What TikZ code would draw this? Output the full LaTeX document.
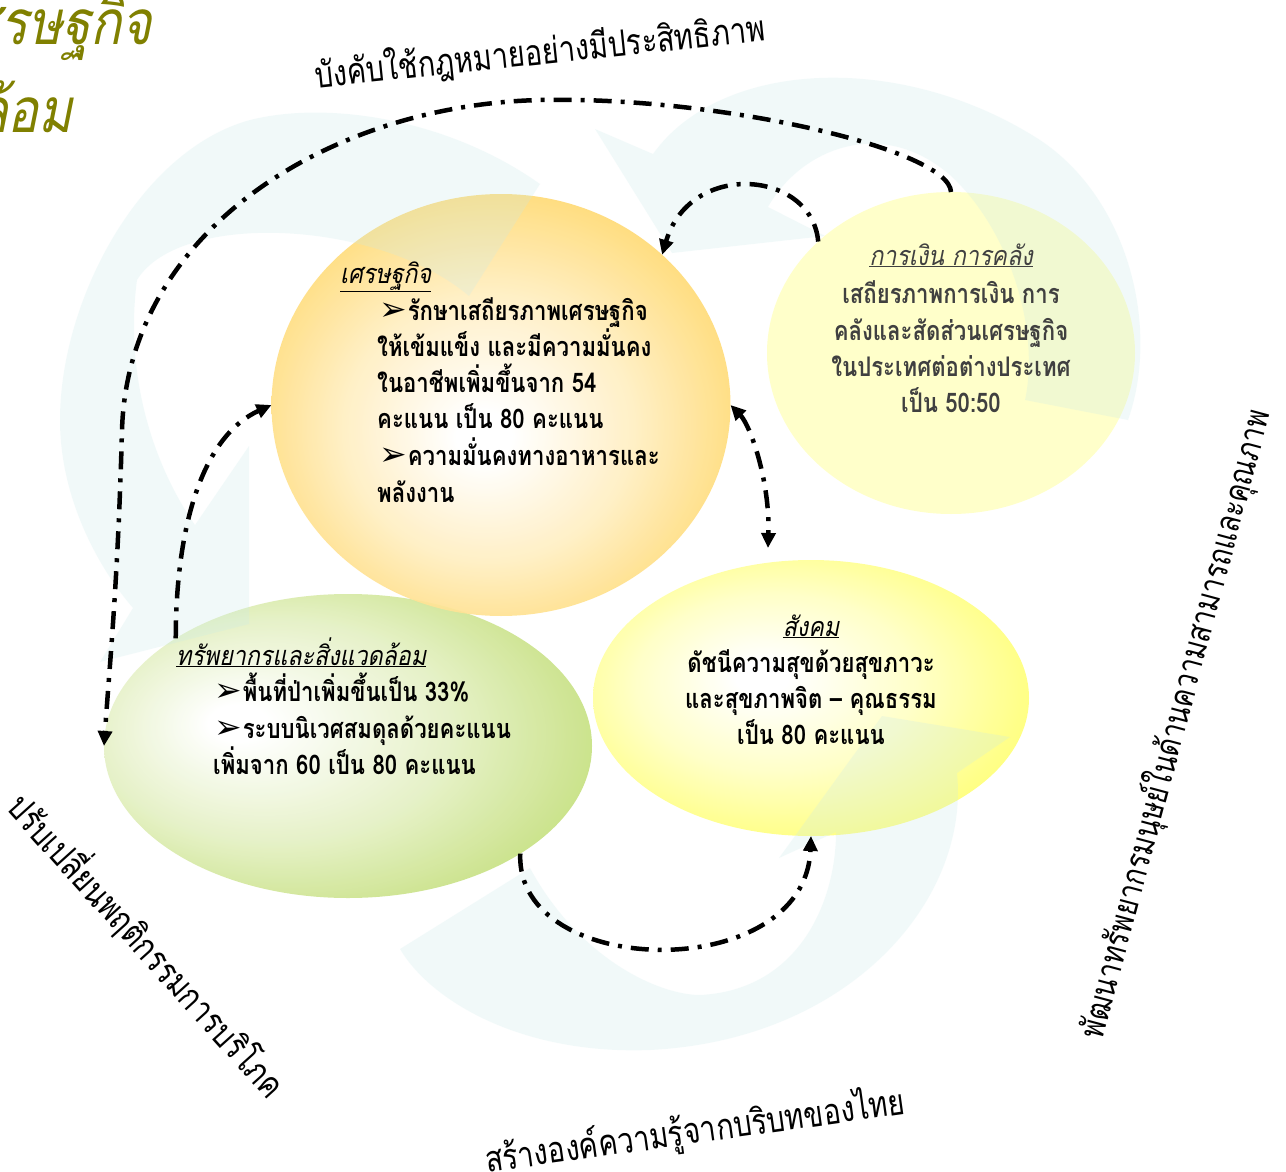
\documentclass[tikz,border=0pt]{standalone}
\usepackage{fontspec}
\usetikzlibrary{arrows.meta,calc,shapes.geometric}
\newfontfamily\bodyfont[Script=Thai,FakeStretch=0.82]{Loma}
\newfontfamily\headfont[Script=Thai,FakeStretch=0.86,FakeSlant=0.2]{Loma}
\newfontfamily\outerfont[Script=Thai,FakeStretch=0.8]{Loma}
\newfontfamily\titlefont[Script=Thai,FakeStretch=0.83,FakeSlant=0.2]{Loma}
\newfontfamily\dejavu{DejaVu Sans}
\definecolor{bgarr}{RGB}{200,234,234}
\definecolor{econc}{RGB}{255,214,100}
\definecolor{envc}{RGB}{190,220,110}
\definecolor{socc}{RGB}{255,255,110}
\definecolor{finc}{RGB}{255,255,200}
\definecolor{titlec}{RGB}{128,128,0}
\definecolor{fintext}{RGB}{64,64,64}
\pgfdeclareradialshading{econshade}{\pgfpoint{-2bp}{-4bp}}{color(0bp)=(white); color(3bp)=(white); color(16bp)=(econc!40!white); color(30bp)=(econc); color(50bp)=(econc)}
\pgfdeclareradialshading{envshade}{\pgfpoint{-12bp}{4bp}}{color(0bp)=(white); color(3bp)=(white); color(18bp)=(envc!40!white); color(34bp)=(envc); color(50bp)=(envc)}
\pgfdeclareradialshading{socshade}{\pgfpoint{-6bp}{4bp}}{color(0bp)=(white); color(3bp)=(white); color(16bp)=(socc!40!white); color(30bp)=(socc); color(50bp)=(socc)}
\tikzset{
  blob/.style={ellipse,inner sep=0pt,outer sep=0pt},
  conn/.style={line width=4.5pt,dash pattern=on 18pt off 9pt on 4pt off 9pt,-{Triangle[length=15pt,width=14pt]}},
  conn2/.style={line width=4.5pt,dash pattern=on 18pt off 9pt on 4pt off 9pt,{Triangle[length=15pt,width=14pt]}-{Triangle[length=15pt,width=14pt]}},
  bgarrow/.style={fill=bgarr,fill opacity=0.24},
  ln/.style={inner sep=0pt,anchor=base west,font=\bodyfont\fontsize{27}{30}\selectfont\bfseries},
  lnc/.style={inner sep=0pt,anchor=base,font=\bodyfont\fontsize{27}{30}\selectfont\bfseries},
  hd/.style={inner sep=0pt,font=\headfont\fontsize{27}{30}\selectfont},
  outer/.style={inner sep=0pt,font=\outerfont\fontsize{36}{40}\selectfont},
  ttl/.style={inner sep=0pt,anchor=base east,text=titlec,font=\titlefont\fontsize{62}{70}\selectfont}
}
\newcommand{\bul}{{\dejavu\fontsize{33}{30}\selectfont ➢}\kern1pt}
\begin{document}
\begin{tikzpicture}[x=1pt,y=-1pt]
\useasboundingbox (0,0) rectangle (1286,1172);
\fill[white] (0,0) rectangle (1286,1172);
% ellipses
\node[blob,minimum width=488pt,minimum height=304pt,shading=envshade,fill opacity=0.93] (env) at (348,746) {};
\node[blob,minimum width=459pt,minimum height=422pt,shading=econshade,fill opacity=0.93] (econ) at (501,405) {};
\node[blob,minimum width=368pt,minimum height=322pt,fill=finc,fill opacity=0.95] (fin) at (951,353) {};
\node[blob,minimum width=436pt,minimum height=276pt,shading=socshade,fill opacity=0.93] (soc) at (811,698) {};
% faint cycle arrows
\fill[bgarrow] (540,184) .. controls (450,120) and (330,100) .. (250,120)
  .. controls (140,150) and (60,300) .. (60,420)
  .. controls (60,500) and (100,570) .. (133,608)
  -- (100,662) -- (249,624) -- (249,446) -- (195,525)
  .. controls (150,460) and (125,370) .. (137,280)
  .. controls (180,210) and (380,220) .. (469,296) -- cycle;
\fill[bgarrow] (653,154) .. controls (720,60) and (900,50) .. (1040,140)
  .. controls (1130,200) and (1160,330) .. (1128,420)
  -- (1025,400)
  .. controls (1040,330) and (1010,230) .. (950,175)
  .. controls (880,115) and (800,150) .. (768,207)
  -- (825,236) -- (672,253) -- (595,129) -- cycle;
\fill[bgarrow] (882,716) -- (1010,737) -- (957,773)
  .. controls (970,900) and (850,1040) .. (650,1050)
  .. controls (520,1055) and (430,1000) .. (400,949)
  -- (530,868)
  .. controls (580,960) and (660,995) .. (700,995)
  .. controls (800,990) and (836,900) .. (836,832)
  -- (779,858) -- cycle;
% title
\node[ttl] (title1) at (152,45) {เศรษฐกิจ};
\node[ttl] (title2) at (73,132) {สิ่งแวดล้อม};
% outer labels
\node[outer,rotate=6] (law) at (540,52) {บังคับใช้กฎหมายอย่างมีประสิทธิภาพ};
\node[outer,rotate=8] (know) at (695,1132) {สร้างองค์ความรู้จากบริบทของไทย};
\node[outer,rotate=75,font=\outerfont\fontsize{34}{38}\selectfont] (human) at (1176,724) {พัฒนาทรัพยากรมนุษย์ในด้านความสามารถและคุณภาพ};
\node[outer,rotate=-48] (behav) at (148,945) {ปรับเปลี่ยนพฤติกรรมการบริโภค};
% connectors
\draw[conn] (fin.north) .. controls (950,150) and (720,96) .. (540,100)
  .. controls (330,105) and (128,230) .. (122,430)
  .. controls (118,580) and (110,660) .. (env.west);
\draw[conn] (fin.140) .. controls (812,170) and (690,160) .. (econ.43);
\draw[conn2] (econ.east) .. controls (750,425) and (770,480) .. ($(soc.north)+(-43,-12)$);
\draw[conn] (env.148) .. controls (176,520) and (205,435) .. (econ.west);
\draw[conn] (env.-32) .. controls (515,980) and (805,985) .. (soc.south);
% econ text
\node[hd,anchor=base west] (e1) at (340,283) {\underline{เศรษฐกิจ}};
\node[ln] (e2) at (379,320) {\bul รักษาเสถียรภาพเศรษฐกิจ};
\node[ln] (e3) at (377,356) {ให้เข้มแข็ง และมีความมั่นคง};
\node[ln] (e4) at (377,392) {ในอาชีพเพิ่มขึ้นจาก 54};
\node[ln] (e5) at (377,428) {คะแนน เป็น 80 คะแนน};
\node[ln] (e6) at (379,465) {\bul ความมั่นคงทางอาหารและ};
\node[ln] (e7) at (377,502) {พลังงาน};
% env text
\node[hd,anchor=base west] (v1) at (176,665) {\underline{ทรัพยากรและสิ่งแวดล้อม}};
\node[ln] (v2) at (214,701) {\bul พื้นที่ป่าเพิ่มขึ้นเป็น 33\%};
\node[ln] (v3) at (214,738) {\bul ระบบนิเวศสมดุลด้วยคะแนน};
\node[ln] (v4) at (213,774) {เพิ่มจาก 60 เป็น 80 คะแนน};
% soc text
\node[hd,anchor=base] (s1) at (811,636) {\underline{สังคม}};
\node[lnc] (s2) at (811,672) {ดัชนีความสุขด้วยสุขภาวะ};
\node[lnc] (s3) at (811,708) {และสุขภาพจิต – คุณธรรม};
\node[lnc] (s4) at (811,744) {เป็น 80 คะแนน};
% fin text
\node[hd,anchor=base,text=fintext] (f1) at (951,265) {\underline{การเงิน การคลัง}};
\node[lnc,text=fintext] (f2) at (951,303) {เสถียรภาพการเงิน การ};
\node[lnc,text=fintext] (f3) at (951,340) {คลังและสัดส่วนเศรษฐกิจ};
\node[lnc,text=fintext] (f4) at (951,376) {ในประเทศต่อต่างประเทศ};
\node[lnc,text=fintext] (f5) at (951,412) {เป็น 50:50};
\end{tikzpicture}
\end{document}
